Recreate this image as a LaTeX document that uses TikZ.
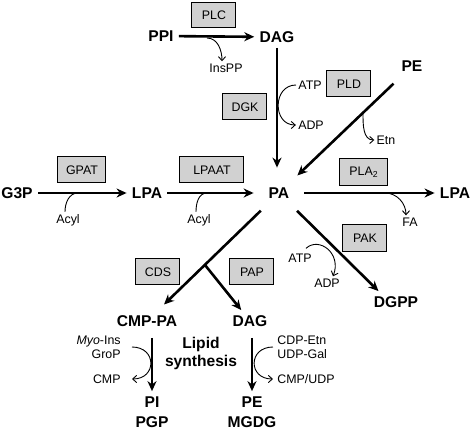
\documentclass[tikz,border=0pt]{standalone}
\usepackage{fontspec}
\setmainfont{Liberation Sans}
\usetikzlibrary{arrows.meta}

\begin{document}
\begin{tikzpicture}[x=0.5pt, y=-0.5pt, >={Stealth[length=5pt,width=4.5pt]},
    metab/.style={font=\bfseries\fontsize{7.8}{10}\selectfont, inner sep=2.5pt, align=center},
    enzyme/.style={rectangle, draw, line width=0.5pt, fill=black!18, minimum width=22pt, minimum height=13pt, inner sep=1pt, font=\fontsize{6.2}{7}\selectfont},
    cofactor/.style={inner sep=1pt, font=\fontsize{6.2}{7}\selectfont},
    flux/.style={->, line width=1.3pt},
    aux/.style={line width=0.45pt},
    auxarr/.style={aux, -{Straight Barb[length=2pt,width=3.6pt]}}]

    \useasboundingbox (0,0) rectangle (473,428);

    % metabolites
    \node[metab] (ppi) at (161,36) {PPI};
    \node[metab] (dag1) at (277,37) {DAG};
    \node[metab] (pe1) at (412,66) {PE};
    \node[metab] (g3p) at (17,193) {G3P};
    \node[metab] (lpa1) at (147,193) {LPA};
    \node[metab, circle, minimum size=25pt] (pa) at (279,193) {PA};
    \node[metab] (lpa2) at (455,193) {LPA};
    \node[metab] (dgpp) at (396,302) {DGPP};
    \node[metab] (cmppa) at (147,321) {CMP-PA};
    \node[metab] (dag2) at (250,321) {DAG};
    \node[metab] (pipgp) at (152,412) {PI\\PGP};
    \node[metab] (pemgdg) at (252,412) {PE\\MGDG};
    \node[metab, font=\bfseries\fontsize{7.8}{9}\selectfont] (lipid) at (201,353) {Lipid\\synthesis};

    % enzymes
    \node[enzyme] (plc) at (214,15) {PLC};
    \node[enzyme] (dgk) at (245,107) {DGK};
    \node[enzyme] (pld) at (349,84) {PLD};
    \node[enzyme, minimum width=24pt] (gpat) at (82,170) {GPAT};
    \node[enzyme, minimum width=32pt] (lpaat) at (212,170) {LPAAT};
    \node[enzyme, minimum width=24pt, minimum height=13.5pt] (pla) at (364,172) {PLA\textsubscript{2}};
    \node[enzyme, minimum height=13.5pt] (pak) at (365,238) {PAK};
    \node[enzyme] (cds) at (158,272) {CDS};
    \node[enzyme] (pap) at (252,272) {PAP};

    % cofactors
    \node[cofactor] (inspp) at (226,68) {InsPP};
    \node[cofactor] (atp1) at (310,85) {ATP};
    \node[cofactor] (adp1) at (311,125) {ADP};
    \node[cofactor] (etn) at (386,140) {Etn};
    \node[cofactor] (acyl1) at (68,220) {Acyl};
    \node[cofactor] (acyl2) at (199,220) {Acyl};
    \node[cofactor] (fa) at (410,222) {FA};
    \node[cofactor] (atp2) at (300,258) {ATP};
    \node[cofactor] (adp2) at (327,283) {ADP};
    \node[cofactor, align=right, anchor=east] (myo) at (123,347) {\textit{Myo}-Ins\\GroP};
    \node[cofactor, anchor=east] (cmp) at (123,379) {CMP};
    \node[cofactor, align=left, anchor=west] (cdp) at (275,347) {CDP-Etn\\UDP-Gal};
    \node[cofactor, anchor=west] (cmpudp) at (275,379) {CMP/UDP};

    \coordinate (plcj) at (207,38);
    \coordinate (pldj) at (363,113);
    \coordinate (gpatj) at (78,193);
    \coordinate (lpaatj) at (207,193);
    \coordinate (plaj) at (385,193);
    \coordinate (br) at (205,265);

    % main fluxes
    \draw[flux] (ppi) -- (dag1);
    \draw[flux] (dag1) -- (dag1 |- pa.north);
    \draw[flux, shorten <=5pt] (pe1) -- (pa);
    \draw[flux] (g3p) -- (lpa1);
    \draw[flux] (lpa1) -- (pa);
    \draw[flux] (pa) -- (lpa2);
    \draw[flux] (pa) -- ([xshift=5pt]dgpp.north west);
    \draw[flux, shorten >=4pt] (pa) -- (cmppa);
    \draw[flux] (br) -- (dag2);
    \draw[flux, shorten <=3pt] (cmppa.south -| pipgp) -- (pipgp);
    \draw[flux, shorten <=3pt] (dag2.south -| pemgdg) -- (pemgdg);

    % side reactions
    \draw[auxarr] (plcj) to[out=0, in=90] ([xshift=-2pt]inspp.north);
    \draw[auxarr] (atp1.west) to[out=180, in=180, looseness=1.5] (adp1.west);
    \draw[auxarr] (pldj) to[out=-90, in=180] (etn.west);
    \draw[aux] ([xshift=-1.5pt]acyl1.north) to[out=90, in=180] (gpatj);
    \draw[aux] ([xshift=-1.5pt]acyl2.north) to[out=90, in=180] (lpaatj);
    \draw[auxarr] (plaj) to[out=0, in=90] ([xshift=-2pt]fa.north);
    \draw[auxarr] ([xshift=-4pt,yshift=1.5pt]atp2.north east) .. controls +(13,-12) and +(9,-23) .. ([xshift=3pt]adp2.north);
    \draw[auxarr] ([xshift=4.5pt]myo.east) to[out=0, in=0, looseness=2] ([xshift=4.5pt]cmp.east);
    \draw[auxarr] ([xshift=-1pt]cdp.west) to[out=180, in=180, looseness=2] ([xshift=-1pt]cmpudp.west);

\end{tikzpicture}
\end{document}
